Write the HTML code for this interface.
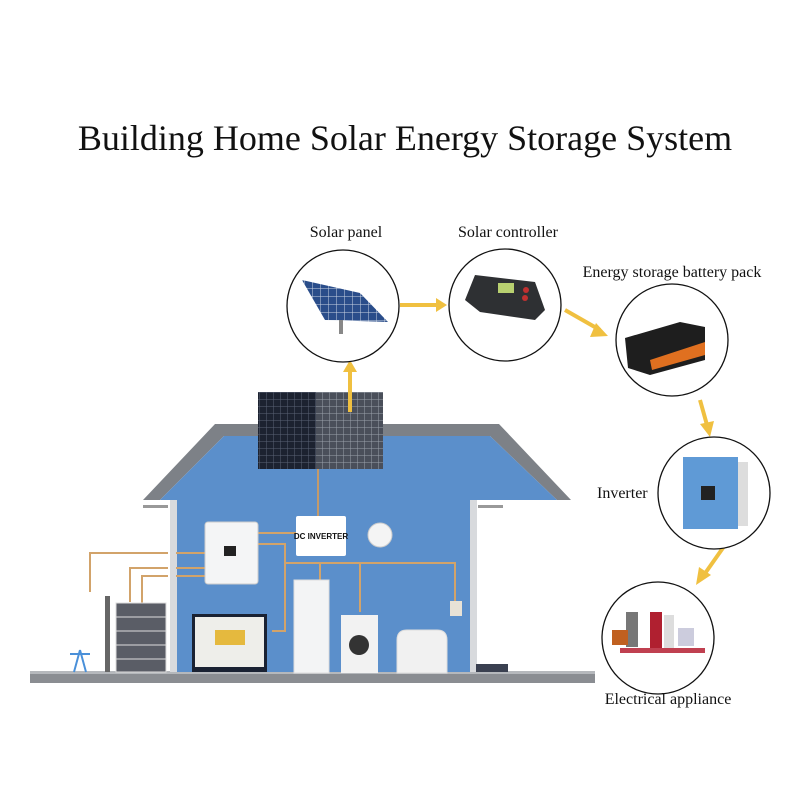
<!DOCTYPE html>
<html><head><meta charset="utf-8"><style>
html,body{margin:0;padding:0;background:#fff;}
svg{display:block}
text{font-family:"Liberation Serif",serif;fill:#111}
text.s{font-family:"Liberation Sans",sans-serif}
</style></head><body>
<svg width="800" height="800" viewBox="0 0 800 800" xmlns="http://www.w3.org/2000/svg">
<defs>
<pattern id="grid" width="7" height="7" patternUnits="userSpaceOnUse"><rect width="7" height="7" fill="#1c2230"/><path d="M0 0H7M0 0V7" stroke="#5a6275" stroke-width="1"/></pattern>
<pattern id="grid2" width="7" height="7" patternUnits="userSpaceOnUse"><rect width="7" height="7" fill="#4a4f5a"/><path d="M0 0H7M0 0V7" stroke="#9aa0ab" stroke-width="1"/></pattern>
<pattern id="sp" width="8" height="8" patternUnits="userSpaceOnUse"><rect width="8" height="8" fill="#2a4d8a"/><path d="M0 0H8M0 0V8" stroke="#c9d3e3" stroke-width="1"/></pattern>
</defs>
<text x="405" y="150" font-size="36" text-anchor="middle">Building Home Solar Energy Storage System</text>

<rect x="30" y="671" width="565" height="12" fill="#8a8d92"/>
<rect x="30" y="671" width="565" height="3" fill="#b5b8bc"/>
<polygon points="143,500 215,424 499,424 571,500 557,500 490,436 224,436 160,500" fill="#7d8187"/>
<polygon points="160,500 224,436 490,436 557,500 475,500 475,672 176,672 176,500" fill="#5b8fcb"/>
<rect x="170" y="500" width="7" height="172" fill="#d8dadd"/>
<rect x="470" y="500" width="7" height="172" fill="#d8dadd"/>
<rect x="143" y="505" width="25" height="3" fill="#999"/>
<rect x="478" y="505" width="25" height="3" fill="#999"/>

<rect x="258" y="392" width="125" height="77" fill="url(#grid)"/>
<rect x="316" y="392" width="67" height="77" fill="url(#grid2)"/>
<line x1="318" y1="469" x2="318" y2="517" stroke="#c39a6b" stroke-width="2"/>

<g stroke="#d2a36a" stroke-width="2" fill="none">
<path d="M90 592V553H168"/><path d="M130 602V568H168"/><path d="M142 603V576H168"/>
<path d="M176 553H205M176 568H205M176 576H205"/>
<path d="M258 533H296"/><path d="M258 544H285V631H272"/>
<path d="M285 563H455V604"/><path d="M320 563V580M360 563V612"/>
</g>
<rect x="205" y="522" width="53" height="62" rx="3" fill="#f4f5f6" stroke="#ccc"/>
<rect x="224" y="546" width="12" height="10" fill="#222"/>
<rect x="296" y="516" width="50" height="40" rx="2" fill="#fff"/>
<text class="s" x="321" y="539" font-size="8" text-anchor="middle" font-weight="bold">DC INVERTER</text>
<circle cx="380" cy="535" r="12" fill="#f4f4f4" stroke="#ccc"/>
<rect x="294" y="580" width="35" height="93" fill="#f3f4f5" stroke="#ddd"/>
<rect x="341" y="615" width="37" height="58" fill="#f2f2f2"/>
<circle cx="359" cy="645" r="10" fill="#333"/>
<path d="M397 673V640q0-10 10-10h30q10 0 10 10v33z" fill="#f1f1f1" stroke="#ddd"/>
<rect x="450" y="601" width="12" height="15" fill="#e8e2d6"/>
<rect x="192" y="614" width="75" height="58" fill="#1a2233"/>
<rect x="195" y="617" width="69" height="50" fill="#eeeeea"/>
<rect x="215" y="630" width="30" height="15" fill="#e5b93e"/>
<g fill="#5a5d66" stroke="#ddd">
<rect x="116" y="603" width="50" height="14"/><rect x="116" y="617" width="50" height="14"/><rect x="116" y="631" width="50" height="14"/><rect x="116" y="645" width="50" height="14"/><rect x="116" y="659" width="50" height="13"/>
</g>
<rect x="105" y="596" width="5" height="76" fill="#666"/>
<path d="M80 650L74 672M80 650L86 672M70 654H90" stroke="#4a90d9" stroke-width="2" fill="none"/>
<rect x="476" y="664" width="32" height="8" fill="#3a4050"/>

<g stroke="#f0c040" stroke-width="4" fill="#f0c040">
<line x1="350" y1="412" x2="350" y2="370"/><polygon points="343,372 357,372 350,360" stroke="none"/>
<line x1="400" y1="305" x2="436" y2="305"/><polygon points="436,298 436,312 447,305" stroke="none"/>
<line x1="565" y1="310" x2="600" y2="330"/><polygon points="596,323 590,337 608,336" stroke="none"/>
<line x1="700" y1="400" x2="707" y2="425"/><polygon points="700,424 714,421 710,437" stroke="none"/>
<line x1="725" y1="545" x2="706" y2="572"/><polygon points="699,567 711,575 696,585" stroke="none"/>
</g>

<g fill="#fff" stroke="#111" stroke-width="1.3">
<circle cx="343" cy="306" r="56"/><circle cx="505" cy="305" r="56"/><circle cx="672" cy="340" r="56"/><circle cx="714" cy="493" r="56"/><circle cx="658" cy="638" r="56"/>
</g>
<polygon points="302,280 360,293 388,322 325,320" fill="url(#sp)"/>
<rect x="339" y="320" width="4" height="14" fill="#888"/>
<polygon points="465,300 475,275 535,282 545,310 535,320 480,312" fill="#2e3033"/>
<rect x="498" y="283" width="16" height="10" fill="#b8d070"/>
<circle cx="526" cy="290" r="3" fill="#c03030"/><circle cx="525" cy="298" r="3" fill="#c03030"/>
<polygon points="625,338 680,322 705,327 705,360 650,375 628,368" fill="#1e1e1e"/>
<polygon points="650,360 705,342 705,355 652,370" fill="#e07020"/>
<rect x="683" y="457" width="55" height="72" fill="#5f9ad6"/>
<rect x="738" y="462" width="10" height="64" fill="#ddd"/>
<rect x="701" y="486" width="14" height="14" fill="#222"/>
<rect x="626" y="612" width="12" height="35" fill="#777"/>
<rect x="650" y="612" width="12" height="38" fill="#b02030"/>
<rect x="664" y="615" width="10" height="34" fill="#ddd"/>
<rect x="612" y="630" width="16" height="15" fill="#c06020"/>
<rect x="678" y="628" width="16" height="18" fill="#ccd"/>
<rect x="620" y="648" width="85" height="5" fill="#c04050"/>

<text x="346" y="237" font-size="16" text-anchor="middle">Solar panel</text>
<text x="508" y="237" font-size="16" text-anchor="middle">Solar controller</text>
<text x="672" y="277" font-size="16" text-anchor="middle">Energy storage battery pack</text>
<text x="597" y="498" font-size="16">Inverter</text>
<text x="668" y="704" font-size="16" text-anchor="middle">Electrical appliance</text>
</svg>
</body></html>
